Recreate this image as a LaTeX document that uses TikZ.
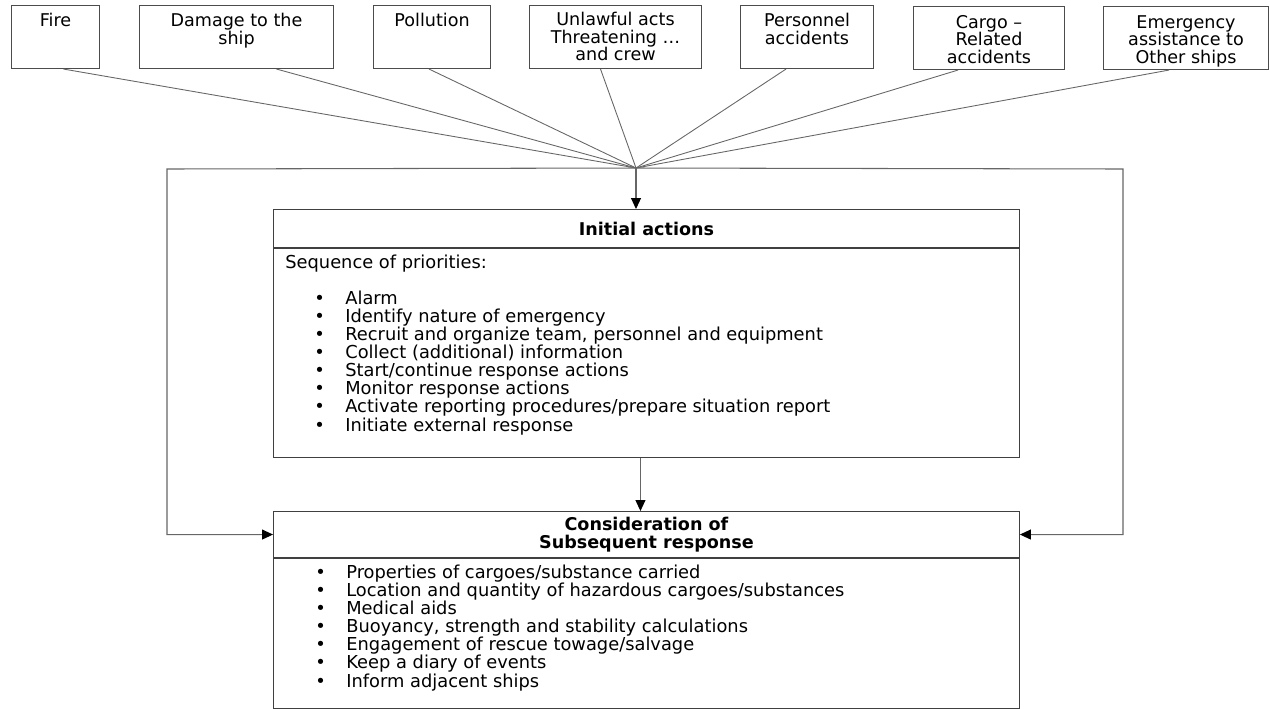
\documentclass[tikz,border=0pt]{standalone}
\usepackage{fontspec}
\setmainfont{DejaVu Sans}
\usepackage{tikz}
\usetikzlibrary{arrows.meta,positioning,calc}

\newcommand{\bitem}[1]{\makebox[0.62cm][l]{\textbullet}#1}

\begin{document}
\begin{tikzpicture}[x=0.02cm,y=-0.02cm,
  hazard/.style={draw=black!70,line width=0.6pt,anchor=north west,
                 minimum height=1.26cm,inner sep=0pt},
  hazardtext/.style={anchor=north,align=center,inner sep=0pt,
                 font=\fontsize{10}{10}\selectfont},
  headbox/.style={draw=black!75,line width=0.6pt,anchor=north west,
                 minimum width=14.92cm,inner sep=0pt,align=center,
                 font=\fontsize{10}{10.3}\selectfont\bfseries},
  bodybox/.style={draw=black!75,line width=0.6pt,anchor=north west,
                 minimum width=14.92cm,inner sep=0pt},
  listtext/.style={anchor=base west,align=left,inner sep=0pt,
                 font=\fontsize{10.15}{10.3}\selectfont},
  feed/.style={draw=black!60,line width=0.5pt},
  flow/.style={draw=black!60,line width=0.6pt,
               -{Triangle[length=2.2mm,width=2mm,color=black]}}
]
\useasboundingbox (0,0) rectangle (1270,708);

% emergency types
\node[hazard,minimum width=1.76cm] (fire)      at (11,5)   {};
\node[hazard,minimum width=3.88cm] (damage)    at (139,5)  {};
\node[hazard,minimum width=2.34cm] (pollution) at (373,5)  {};
\node[hazard,minimum width=3.44cm] (unlawful)  at (529,5)  {};
\node[hazard,minimum width=2.66cm] (personnel) at (740,5)  {};
\node[hazard,minimum width=3.02cm] (cargo)     at (913,6)  {};
\node[hazard,minimum width=3.30cm] (assist)    at (1103,6) {};

\node[hazardtext] (firetext)      at ($(fire.north)+(0,8)$)      {Fire};
\node[hazardtext] (damagetext)    at ($(damage.north)+(0,8)$)    {Damage to the\\ship};
\node[hazardtext] (pollutiontext) at ($(pollution.north)+(0,8)$) {Pollution};
\node[hazardtext] (unlawfultext)  at ($(unlawful.north)+(0,7)$)  {Unlawful acts\\Threatening \dots\\and crew};
\node[hazardtext] (personneltext) at ($(personnel.north)+(0,8)$) {Personnel\\accidents};
\node[hazardtext] (cargotext)     at ($(cargo.north)+(0,9)$)     {Cargo --\\Related\\accidents};
\node[hazardtext] (assisttext)    at ($(assist.north)+(0,9)$)    {Emergency\\assistance to\\Other ships};

\coordinate (hub) at (636,168);
\draw[feed] ($(fire.south)+(8,0)$)         -- (hub);
\draw[feed] ($(damage.south)+(40,0)$)      -- (hub);
\draw[feed] ($(pollution.south)+(-3,0)$)   -- (hub);
\draw[feed] ($(unlawful.south)+(-15,0)$)   -- (hub);
\draw[feed] ($(personnel.south)+(-21,0)$)  -- (hub);
\draw[feed] ($(cargo.south)+(-31,0)$)      -- (hub);
\draw[feed] ($(assist.south)+(-17,0)$)     -- (hub);

% initial actions
\node[headbox,minimum height=0.76cm] (inithead) at (273,209) {Initial actions};
\node[bodybox,minimum height=4.18cm] (initbody) at (inithead.south west) {};
\node[listtext] (seqtext) at (285,268) {Sequence of priorities:};
\node[listtext] (initlist) at (314,431) {%
  \bitem{Alarm}\\
  \bitem{Identify nature of emergency}\\
  \bitem{Recruit and organize team, personnel and equipment}\\
  \bitem{Collect (additional) information}\\
  \bitem{Start/continue response actions}\\
  \bitem{Monitor response actions}\\
  \bitem{Activate reporting procedures/prepare situation report}\\
  \bitem{Initiate external response}};

% subsequent response
\node[headbox,minimum height=0.92cm] (conshead) at (273,511) {Consideration of\\Subsequent response};
\node[bodybox,minimum height=3.0cm] (consbody) at (conshead.south west) {};
\node[listtext] (conslist) at (315,687) {%
  \bitem{Properties of cargoes/substance carried}\\
  \bitem{Location and quantity of hazardous cargoes/substances}\\
  \bitem{Medical aids}\\
  \bitem{Buoyancy, strength and stability calculations}\\
  \bitem{Engagement of rescue towage/salvage}\\
  \bitem{Keep a diary of events}\\
  \bitem{Inform adjacent ships}};

\coordinate (leftturn)  at (167,169);
\coordinate (rightturn) at (1123,169);
\draw[flow] (hub) -- (hub |- inithead.north);
\draw[flow] ($(initbody.south)+(-6,0)$) -- ($(conshead.north)+(-6,0)$);
\draw[flow] (hub) -- (leftturn) |- (conshead.west);
\draw[flow] (hub) -- (rightturn) |- (conshead.east);
\end{tikzpicture}
\end{document}
